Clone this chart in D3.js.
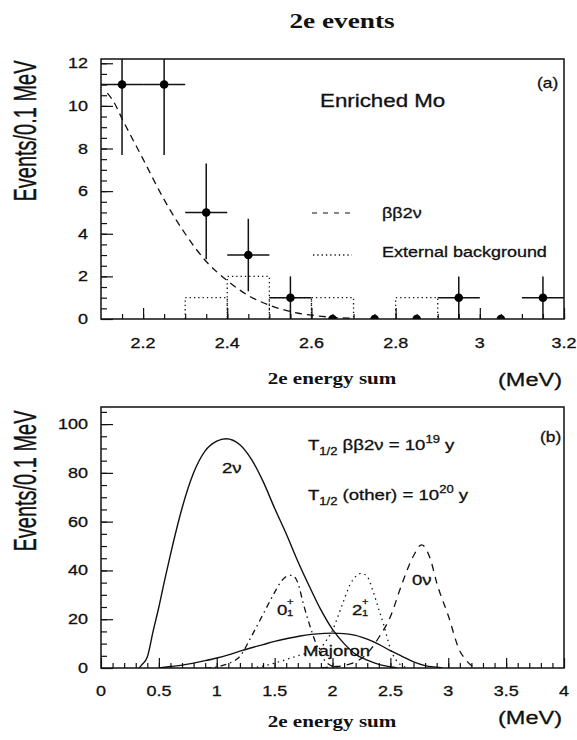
<!DOCTYPE html>
<html><head><meta charset="utf-8">
<script src="https://cdn.jsdelivr.net/npm/d3@7"></script>
<style>body{margin:0;background:#fff}svg{display:block}</style>
</head><body><svg id="c" width="577" height="740"></svg>
<script>
// ---------- DATA ----------
// Panel (a): measured spectrum, enriched Mo
const aCenters = [2.15,2.25,2.35,2.45,2.55,2.65,2.75,2.85,2.95,3.05,3.15];
const aCounts  = [11,11,5,3,1,0,0,0,1,0,1];
const aErrDown = [3.3,3.3,2.2,1.7,1,0,0,0,1,0,1];
const aErrUp   = [3.9,3.9,2.3,1.7,1,0,0,0,1,0,1];
const aHalfBin = 0.05;
// external background histogram (bin low edges, counts)
const bgBinLo  = [2.3,2.4,2.5,2.6,2.7,2.8];
const bgCounts = [1,2,1,1,0,1];
const bgBinW   = 0.1;
// bb2v expectation (dashed)
const bb2vX = [2.115,2.13,2.15,2.2,2.25,2.3,2.35,2.4,2.45,2.5,2.55,2.6,2.65,2.7];
const bb2vY = [10.6,10.2,9.4,7.5,5.6,4.0,2.7,1.8,1.1,0.65,0.35,0.18,0.08,0.03];
const aXTicks = [2.2,2.4,2.6,2.8,3.0,3.2];
const aXTickLabels = ["2.2","2.4","2.6","2.8","3","3.2"];
const aYTicks = [0,2,4,6,8,10,12];
const aYTickLabels = ["0","2","4","6","8","10","12"];

// Panel (b): simulated spectra
const twoNuX = [0.33,0.35,0.4,0.45,0.5,0.55,0.6,0.7,0.8,0.9,1.0,1.08,1.2,1.3,1.4,1.5,1.6,1.7,1.8,1.9,2.0,2.1,2.2,2.3,2.4,2.5,2.56];
const twoNuY = [0,1.2,4.5,15,25,36,46.5,65.5,80,89,93,94,91.5,85.5,76.5,65.5,55,43.8,33.5,23.8,15.8,10,5.6,3.2,1.5,0.5,0];
const majX = [0.5,0.6,0.7,0.8,0.9,1.0,1.1,1.2,1.3,1.4,1.5,1.6,1.7,1.8,1.9,2.0,2.1,2.2,2.3,2.4,2.5,2.6,2.7,2.8,2.9,2.95];
const majY = [0,0.6,1.2,2.0,3.0,4.1,5.4,6.9,8.3,9.6,10.9,12.0,12.9,13.7,14.1,14.3,14.1,13.4,11.8,9.7,7.1,4.8,2.5,1.0,0.3,0];
const zero1X = [0.9,1.0,1.1,1.2,1.3,1.4,1.5,1.55,1.6,1.65,1.7,1.75,1.8,1.85,1.9,1.95,2.0,2.05];
const zero1Y = [0,0.5,1.8,4.8,13,22,31,35,37.5,38,35,26,18,11,5.5,2.2,0.7,0];
const two1X = [1.3,1.4,1.5,1.6,1.7,1.8,1.9,1.95,2.0,2.05,2.1,2.15,2.2,2.25,2.3,2.35,2.4,2.45,2.5,2.55,2.6,2.65];
const two1Y = [0,0.8,2,3.5,5,6.5,8.5,11.5,15.5,21.5,28,34,37.5,38.8,37.5,31.5,24,16.5,7.8,3.2,1,0];
const zeroNuX = [1.9,2.0,2.1,2.2,2.3,2.4,2.5,2.6,2.7,2.77,2.85,2.9,3.0,3.1,3.15,3.2,3.25];
const zeroNuY = [0,0.5,1,2.5,6,12.5,21,34.5,46,50.5,44,35,21.5,7,3.5,1,0];
const bXTicks = [0,0.5,1,1.5,2,2.5,3,3.5,4];
const bXTickLabels = ["0","0.5","1","1.5","2","2.5","3","3.5","4"];
const bYTicks = [0,20,40,60,80,100];
const bYTickLabels = ["0","20","40","60","80","100"];

// ---------- DRAWING ----------
const svg = d3.select("#c");
svg.append("rect").attr("width",577).attr("height",740).attr("fill","#fff");
const SX = 1.24; // horizontal stretch of lettering in reference
const SANS = "'Liberation Sans', Arial, Helvetica, sans-serif";
const SERIF = "'Liberation Serif', 'Times New Roman', serif";

function txt(x, y, s, size, anchor="start", family=SANS, weight="normal") {
  const t = svg.append("text")
    .attr("transform", `translate(${x},${y}) scale(${SX},1)`)
    .attr("text-anchor", anchor).attr("font-family", family)
    .attr("font-size", size).attr("font-weight", weight)
    .attr("fill", "#111").text(s);
  if (family === SANS) t.attr("stroke","#111").attr("stroke-width",0.3);
  return t;
}
function ylabel(x, y, s) {
  svg.append("text")
    .attr("transform", `translate(${x},${y}) rotate(-90) scale(1,1.55)`)
    .attr("text-anchor","middle").attr("font-family",SANS)
    .attr("font-size",20).attr("fill","#111")
    .attr("stroke","#111").attr("stroke-width",0.25).text(s);
}

// Title
txt(342, 28, "2e events", 22, "middle", SERIF, "bold");

// ===== Panel (a) =====
const xa = d3.scaleLinear([2.1,3.2],[101,564]);
const ya = d3.scaleLinear([0,12.2],[319,59]);
svg.append("clipPath").attr("id","clipA").append("rect")
  .attr("x",101).attr("y",59).attr("width",463).attr("height",260);
const ga = svg.append("g").attr("clip-path","url(#clipA)");

// background histogram (dotted)
bgBinLo.forEach((lo,i)=>{
  if (bgCounts[i] <= 0) return;
  const p = d3.path();
  p.moveTo(xa(lo), ya(0)); p.lineTo(xa(lo), ya(bgCounts[i]));
  p.lineTo(xa(lo+bgBinW), ya(bgCounts[i])); p.lineTo(xa(lo+bgBinW), ya(0));
  ga.append("path").attr("d",p.toString()).attr("fill","none")
    .attr("stroke","#111").attr("stroke-width",1.3).attr("stroke-dasharray","1.3,3");
});
// bb2v curve
const lineA = d3.line().x(d=>xa(d[0])).y(d=>ya(d[1])).curve(d3.curveMonotoneX);
ga.append("path").attr("d", lineA(d3.zip(bb2vX,bb2vY))).attr("fill","none")
  .attr("stroke","#111").attr("stroke-width",1.3).attr("stroke-dasharray","7,5");
// data points
aCenters.forEach((c,i)=>{
  const v = aCounts[i];
  if (v > 0) {
    ga.append("line").attr("x1",xa(c-aHalfBin)).attr("x2",xa(c+aHalfBin))
      .attr("y1",ya(v)).attr("y2",ya(v)).attr("stroke","#111").attr("stroke-width",1.5);
    ga.append("line").attr("x1",xa(c)).attr("x2",xa(c))
      .attr("y1",ya(v-aErrDown[i])).attr("y2",ya(v+aErrUp[i])).attr("stroke","#111").attr("stroke-width",1.5);
  }
  ga.append("circle").attr("cx",xa(c)).attr("cy",ya(v)).attr("r",4.3).attr("fill","#000");
});
// ticks
function ticksA() {
  const minorX = d3.range(2.15, 3.2, 0.05).map(v=>+v.toFixed(2));
  svg.append("g").attr("transform","translate(0,319)")
    .call(d3.axisBottom(xa).tickValues(minorX).tickSize(-5).tickFormat(""))
    .call(g=>g.select(".domain").remove());
  svg.append("g").attr("transform","translate(0,319)")
    .call(d3.axisBottom(xa).tickValues(aXTicks).tickSize(-11).tickFormat(""))
    .call(g=>g.select(".domain").remove());
  const minorY = d3.range(0.5, 12.2, 0.5);
  svg.append("g").attr("transform","translate(101,0)")
    .call(d3.axisLeft(ya).tickValues(minorY).tickSize(-6).tickFormat(""))
    .call(g=>g.select(".domain").remove());
  svg.append("g").attr("transform","translate(101,0)")
    .call(d3.axisLeft(ya).tickValues(aYTicks).tickSize(-12).tickFormat(""))
    .call(g=>g.select(".domain").remove());
  svg.selectAll(".tick line").attr("stroke","#111").attr("stroke-width",1.2);
  aXTicks.forEach((t,i)=>txt(xa(t), 348, aXTickLabels[i], 14.5, "middle"));
  aYTicks.forEach((t,i)=>txt(88, ya(t)+5, aYTickLabels[i], 14.5, "end"));
}
ticksA();
svg.append("rect").attr("x",101).attr("y",59).attr("width",463).attr("height",260)
  .attr("fill","none").attr("stroke","#111").attr("stroke-width",1.5);

txt(320, 107, "Enriched Mo", 18);
txt(537, 88, "(a)", 14);
svg.append("line").attr("x1",312).attr("x2",356).attr("y1",213).attr("y2",213)
  .attr("stroke","#111").attr("stroke-width",1.2).attr("stroke-dasharray","5,6");
txt(382, 218, "ββ2ν", 14.5);
svg.append("line").attr("x1",313).attr("x2",352).attr("y1",255).attr("y2",255)
  .attr("stroke","#111").attr("stroke-width",1.3).attr("stroke-dasharray","1.3,3");
txt(382, 257, "External background", 14.5);

ylabel(36, 131, "Events/0.1 MeV");
txt(332, 384, "2e energy sum", 17, "middle", SERIF, "bold");
txt(498, 386, "(MeV)", 19);

// ===== Panel (b) =====
const xb = d3.scaleLinear([0,4],[101,564]);
const yb = d3.scaleLinear([0,107],[668,407]);
svg.append("clipPath").attr("id","clipB").append("rect")
  .attr("x",101).attr("y",407).attr("width",463).attr("height",261);
const gb = svg.append("g").attr("clip-path","url(#clipB)");
const lineB = d3.line().x(d=>xb(d[0])).y(d=>yb(d[1])).curve(d3.curveMonotoneX);
function curve(X,Y,dash,w=1.3){
  gb.append("path").attr("d", lineB(d3.zip(X,Y))).attr("fill","none")
    .attr("stroke","#111").attr("stroke-width",w).attr("stroke-dasharray",dash);
}
curve(twoNuX, twoNuY, null, 1.4);
curve(majX, majY, null, 1.4);
curve(zero1X, zero1Y, "6,4,1.5,4");
curve(two1X, two1Y, "1.4,4");
curve(zeroNuX, zeroNuY, "7,6");

function ticksB() {
  const minorX = d3.range(0.1, 4, 0.1).map(v=>+v.toFixed(2));
  svg.append("g").attr("class","tb").attr("transform","translate(0,668)")
    .call(d3.axisBottom(xb).tickValues(minorX).tickSize(-5).tickFormat(""))
    .call(g=>g.select(".domain").remove());
  svg.append("g").attr("class","tb").attr("transform","translate(0,668)")
    .call(d3.axisBottom(xb).tickValues(bXTicks).tickSize(-10).tickFormat(""))
    .call(g=>g.select(".domain").remove());
  const minorY = d3.range(5, 107, 5);
  svg.append("g").attr("class","tb").attr("transform","translate(101,0)")
    .call(d3.axisLeft(yb).tickValues(minorY).tickSize(-6).tickFormat(""))
    .call(g=>g.select(".domain").remove());
  svg.append("g").attr("class","tb").attr("transform","translate(101,0)")
    .call(d3.axisLeft(yb).tickValues(bYTicks).tickSize(-12).tickFormat(""))
    .call(g=>g.select(".domain").remove());
  svg.selectAll(".tb .tick line").attr("stroke","#111").attr("stroke-width",1.2);
  bXTicks.forEach((t,i)=>txt(xb(t), 696, bXTickLabels[i], 14.5, "middle"));
  bYTicks.forEach((t,i)=>txt(88, yb(t)+5, bYTickLabels[i], 14.5, "end"));
}
ticksB();
svg.append("rect").attr("x",101).attr("y",407).attr("width",463).attr("height",261)
  .attr("fill","none").attr("stroke","#111").attr("stroke-width",1.5);

// annotations (b)
txt(540, 442, "(b)", 14);
function tline(y, mid, sup) {
  const t = svg.append("text")
    .attr("transform", `translate(308,${y}) scale(${SX},1)`)
    .attr("font-family",SANS).attr("font-size",15).attr("fill","#111")
    .attr("stroke","#111").attr("stroke-width",0.3);
  t.append("tspan").text("T");
  t.append("tspan").attr("font-size",10.5).attr("dy",5).text("1/2");
  t.append("tspan").attr("dy",-5).text(mid);
  t.append("tspan").attr("font-size",10.5).attr("dy",-7).text(sup);
  t.append("tspan").attr("dy",7).text(" y");
}
tline(450, " ββ2ν = 10", "19");
tline(500, " (other) = 10", "20");

txt(222, 473, "2ν", 15);
txt(412, 585, "0ν", 15);
txt(303, 656, "Majoron", 15);
function level(x, y, d) {
  txt(x, y, d, 15);
  txt(x+10, y-10, "+", 9);
  txt(x+10, y+1, "1", 9);
}
level(277, 615, "0");
level(352, 615, "2");

ylabel(36, 481, "Events/0.1 MeV");
txt(332, 727, "2e energy sum", 17, "middle", SERIF, "bold");
txt(498, 724, "(MeV)", 19);
</script></body></html>
